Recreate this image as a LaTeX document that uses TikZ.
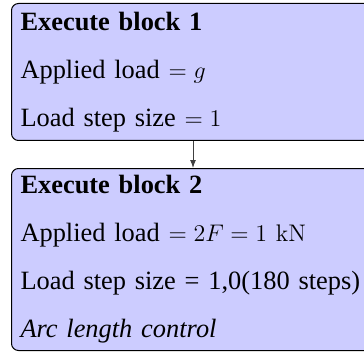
\documentclass[tikz,border=0pt]{standalone}
\usepackage[no-math]{fontspec}
\setmainfont{Liberation Serif}
\usetikzlibrary{arrows.meta,positioning}
\tikzset{
    block/.style={
        draw=black,
        line width=0.5pt,
        fill=blue!20,
        rounded corners=3.5pt,
        anchor=north west,
        align=left,
        text width=172.5pt,
        inner xsep=4.5pt,
        inner ysep=3pt,
        font=\fontsize{13.2}{24}\selectfont
    },
    flow/.style={
        draw=black!75,
        line width=0.5pt,
        -{Latex[length=4pt,width=3pt]}
    }
}

\begin{document}
\begin{tikzpicture}
    \useasboundingbox (0,0) rectangle (182pt,-176.5pt);
    \clip (0,0) rectangle (182pt,-176.5pt);
    % first block
    \node[block, minimum height=68.5pt] (block1) at (5.5pt,-1.5pt)
        {\textbf{Execute block 1}\\
         Applied load $= g$\\
         Load step size $= 1$};
    % second block
    \node[block, minimum height=91pt] (block2) at (5.5pt,-84pt)
        {\textbf{Execute block 2}\\
         Applied load $= 2F = 1\ \mathrm{kN}$\\
         \mbox{Load step size = 1,0(180 steps)}\\
         \textit{Arc length control}};
    \draw[flow] (block1.south) -- (block2.north);
\end{tikzpicture}
\end{document}
